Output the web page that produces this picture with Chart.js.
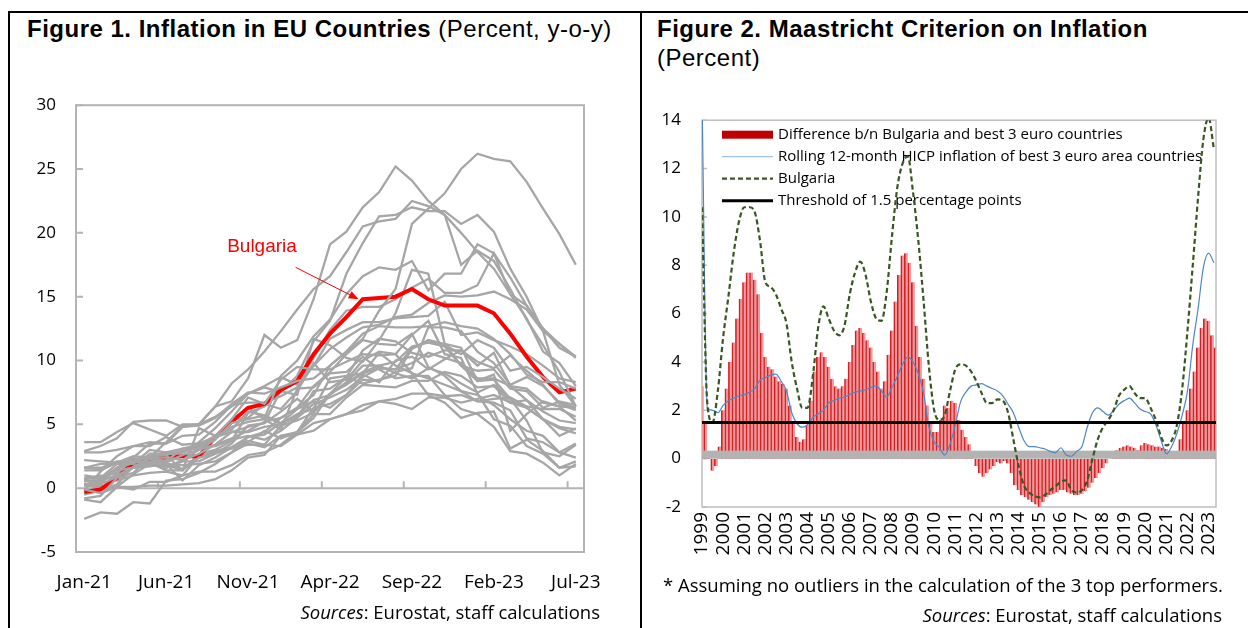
<!DOCTYPE html>
<html>
<head>
<meta charset="utf-8">
<script src="https://cdn.jsdelivr.net/npm/chart.js@4.4.0/dist/chart.umd.min.js"></script>
<style>
body{margin:0;width:1248px;height:628px;overflow:hidden;background:#fff;position:relative;font-family:"Open Sans",sans-serif;}
.rule{position:absolute;background:#000;}
.title{position:absolute;font-family:"Liberation Sans",Arial,sans-serif;font-size:24px;letter-spacing:0.5px;line-height:28px;white-space:nowrap;color:#000;}
.note{position:absolute;font-size:18.5px;line-height:22px;white-space:nowrap;color:#000;}
canvas{position:absolute;}
</style>
</head>
<body>
<div class="rule" style="left:8px;top:11px;width:1240px;height:2px"></div>
<div class="rule" style="left:8px;top:11px;width:2px;height:617px"></div>
<div class="rule" style="left:640px;top:11px;width:2px;height:617px"></div>

<div class="title" style="left:27px;top:15px"><b>Figure 1. Inflation in EU Countries</b> (Percent, y-o-y)</div>
<div class="title" style="left:657px;top:15px"><b>Figure 2. Maastricht Criterion on Inflation</b></div>
<div class="title" style="left:657px;top:44px">(Percent)</div>

<canvas id="fig1" width="630" height="530" style="left:10px;top:75px"></canvas>
<canvas id="fig2" width="603" height="511" style="left:645px;top:89px"></canvas>

<div class="note" style="right:648px;top:601px"><i>Sources</i>: Eurostat, staff calculations</div>
<div class="note" style="left:663px;top:574px">* Assuming no outliers in the calculation of the 3 top performers.</div>
<div class="note" style="right:26px;top:604px"><i>Sources</i>: Eurostat, staff calculations</div>

<script>
// ---------- Figure 1 data: HICP y-o-y, Jan-21 .. Jul-23 ----------
const months = ['Jan-21','Feb-21','Mar-21','Apr-21','May-21','Jun-21','Jul-21','Aug-21','Sep-21','Oct-21','Nov-21','Dec-21',
  'Jan-22','Feb-22','Mar-22','Apr-22','May-22','Jun-22','Jul-22','Aug-22','Sep-22','Oct-22','Nov-22','Dec-22',
  'Jan-23','Feb-23','Mar-23','Apr-23','May-23','Jun-23','Jul-23'];
const yTicks1 = [-5, 0, 5, 10, 15, 20, 25, 30];

const austria    = [1.4,1.4,2.0,1.9,3.0,2.8,2.8,3.2,3.3,3.8,4.1,3.8, 4.5,5.5,6.6,7.1,7.7,8.7,9.4,9.3,11.0,11.5,11.2,10.5, 11.6,11.0,9.2,9.5,8.7,7.8,7.0];
const belgium    = [0.6,0.3,1.6,2.0,2.5,2.6,1.4,4.7,4.1,5.4,7.1,6.6, 8.5,9.5,9.3,9.3,9.9,10.5,10.4,10.5,12.0,13.1,10.5,10.2, 7.4,5.4,4.9,3.3,2.7,1.6,1.7];
const croatia    = [0.2,0.5,1.5,2.0,2.1,2.0,2.6,3.0,3.4,3.9,4.5,5.2, 5.5,6.3,7.3,9.6,10.7,12.1,12.7,12.6,12.6,12.7,13.0,12.7, 12.5,11.7,10.5,8.9,8.3,8.3,7.8];
const cyprus     = [-0.8,-0.6,0.8,1.2,2.4,2.4,2.2,2.7,3.4,4.4,4.4,4.8, 5.0,5.8,6.2,8.6,8.8,9.0,10.6,9.6,9.0,8.6,8.1,7.6, 6.8,6.7,6.1,3.9,3.6,2.8,2.4];
const czechia    = [2.2,2.1,2.0,2.5,2.4,2.8,3.1,3.1,4.0,4.8,5.2,5.4, 8.8,10.0,11.9,13.2,15.2,16.6,17.3,17.1,17.8,15.5,16.8,16.8, 19.1,18.4,16.5,14.3,12.5,11.3,10.2];
const denmark    = [0.6,0.6,1.0,1.6,1.7,1.9,0.6,1.8,2.4,3.2,3.7,3.4, 4.9,5.3,5.9,7.4,8.2,9.1,9.6,9.9,11.1,11.4,11.1,9.6, 8.4,8.5,7.0,5.3,2.8,2.5,3.4];
const estonia    = [0.3,0.3,0.9,1.6,2.4,3.6,4.9,5.0,6.4,6.8,8.6,12.0, 11.0,11.6,14.8,19.1,20.1,22.0,23.2,25.2,24.1,22.5,21.4,17.5, 18.6,17.8,15.6,13.2,11.2,9.1,6.4];
const finland    = [1.0,0.8,1.9,2.3,2.3,1.9,1.8,1.9,2.1,2.8,3.5,3.2, 4.1,4.4,5.8,5.8,7.1,8.1,8.0,7.9,8.4,8.4,9.1,8.8, 7.9,8.0,6.7,6.3,5.4,4.1,4.7];
const france     = [0.8,0.8,1.4,1.6,1.8,1.9,1.5,2.4,2.7,3.2,3.4,3.4, 3.3,4.2,5.1,5.4,5.8,6.5,6.8,6.6,6.2,7.1,7.1,6.7, 7.0,7.3,6.7,6.9,6.0,5.3,5.1];
const germany    = [1.6,1.6,2.0,2.1,2.4,2.1,3.1,3.4,4.1,4.6,6.0,5.7, 5.1,5.5,7.6,7.8,8.7,8.2,8.5,8.8,10.9,11.6,11.3,9.6, 9.2,9.3,7.8,7.6,6.3,6.8,6.5];
const greece     = [-2.4,-1.9,-2.0,-1.1,-1.2,0.6,0.7,1.2,1.9,2.8,4.0,4.4, 5.5,6.3,8.0,9.1,10.5,11.6,11.3,11.2,12.1,9.5,8.8,7.6, 7.3,6.5,5.4,4.5,4.1,2.8,3.5];
const hungary    = [2.9,3.3,3.9,5.2,5.3,5.3,4.8,4.9,5.5,6.6,7.5,7.4, 7.9,8.4,8.6,9.6,10.7,11.7,13.9,15.6,20.7,21.9,23.1,25.0, 26.2,25.8,25.6,24.0,21.9,19.9,17.5];
const ireland    = [-0.1,-0.4,0.1,1.1,1.9,1.6,2.2,3.0,3.8,5.1,5.4,5.7, 5.0,5.7,6.9,7.3,8.3,9.6,9.6,9.0,8.6,9.4,9.0,8.2, 7.5,8.1,7.0,6.3,5.4,4.8,4.6];
const italy      = [0.7,1.0,0.6,1.0,1.2,1.3,1.0,2.5,2.9,3.2,4.0,4.2, 5.1,6.2,6.8,6.3,7.3,8.5,8.4,9.1,9.4,12.6,12.6,12.3, 10.7,9.8,8.1,8.7,8.0,6.7,6.3];
const latvia     = [-0.5,-0.2,0.3,1.7,2.7,2.7,2.8,3.6,4.7,6.0,7.4,7.9, 7.5,8.8,11.5,13.1,16.8,19.2,21.3,21.4,22.0,21.7,21.7,20.7, 21.4,20.1,17.2,15.0,12.3,8.1,6.4];
const lithuania  = [0.2,0.7,1.6,2.4,3.5,3.5,4.8,5.0,6.4,8.2,9.3,10.7, 12.3,14.0,15.6,16.6,18.5,20.5,20.9,21.1,22.5,22.1,21.4,20.0, 18.5,17.2,15.2,13.3,10.7,9.8,8.0];
const luxembourg = [-0.2,1.3,2.5,3.3,3.3,4.0,3.4,3.5,4.0,5.3,6.3,5.4, 4.6,7.8,7.9,9.0,9.1,10.3,9.3,8.6,8.8,8.8,7.3,6.2, 5.8,4.8,2.9,2.7,2.0,1.0,1.9];
const malta      = [0.2,0.1,0.1,0.1,0.2,0.2,0.3,0.4,0.7,1.4,2.4,2.6, 4.1,4.2,4.5,5.4,5.8,6.1,6.8,7.0,7.4,7.4,7.2,7.3, 6.8,7.0,7.1,6.4,6.2,6.2,5.6];
const netherlands= [1.6,1.9,1.9,1.7,2.0,1.4,1.4,2.7,3.0,3.7,5.9,6.4, 7.6,7.3,11.7,11.2,10.2,9.9,11.6,13.7,17.1,16.8,11.3,11.0, 8.4,8.9,4.5,5.8,6.8,6.4,5.3];
const poland     = [3.6,3.6,4.4,5.1,4.6,4.1,5.0,5.0,5.6,6.4,7.4,8.0, 8.7,8.1,10.2,12.4,13.9,14.2,14.2,14.8,15.7,16.4,15.3,15.3, 15.9,18.4,15.2,14.3,12.5,11.0,10.3];
const portugal   = [0.3,0.2,0.1,-0.1,0.5,0.5,1.0,1.3,1.3,1.8,2.6,2.8, 3.4,4.4,5.5,7.4,8.1,9.0,9.4,9.3,9.8,10.6,10.2,9.8, 8.6,8.6,8.0,6.9,5.4,4.7,4.3];
const romania    = [2.8,2.8,3.0,3.3,3.6,3.5,4.1,4.2,5.2,6.5,6.7,6.7, 7.2,7.9,9.6,11.7,12.4,13.0,13.0,13.3,13.4,13.5,14.6,12.0, 12.2,11.6,11.1,10.5,9.6,8.6,8.3];
const slovakia   = [0.7,0.9,1.2,1.7,2.0,2.5,2.8,3.3,4.0,4.4,4.8,5.1, 7.7,8.3,9.6,10.9,11.8,12.6,12.8,13.4,13.6,14.5,15.1,15.0, 15.1,15.4,14.8,14.0,12.3,11.3,10.3];
const slovenia   = [-0.9,-1.1,0.1,2.2,2.2,1.6,2.1,2.1,2.7,3.5,4.9,5.1, 6.0,7.0,6.0,7.4,8.7,10.8,11.7,11.5,10.6,10.3,10.8,10.8, 9.9,9.4,10.4,9.2,8.1,6.6,6.1];
const spain      = [0.4,-0.1,1.2,2.0,2.4,2.5,2.9,3.3,4.0,5.4,5.5,6.6, 6.2,7.6,9.8,8.3,8.5,10.0,10.7,10.5,9.0,7.3,6.7,5.5, 5.9,6.0,3.1,3.8,2.9,1.6,2.1];
const sweden     = [1.6,1.5,2.1,2.0,1.8,1.8,1.4,2.4,2.8,3.1,3.6,4.5, 3.9,4.4,6.3,6.6,7.3,8.9,8.3,10.0,10.3,9.3,10.1,10.8, 9.6,10.6,8.0,7.8,6.7,6.4,6.3];
const bulgaria1  = [-0.3,-0.1,0.8,2.0,2.3,2.4,2.5,2.5,4.0,5.2,6.3,6.6, 7.7,8.4,10.5,12.1,13.4,14.8,14.9,15.0,15.6,14.8,14.3,14.3, 14.3,13.7,12.1,10.3,8.7,7.5,7.8];

const othersFirst = [austria, belgium, croatia, cyprus, czechia, denmark, estonia, finland, france, germany, greece, hungary, ireland];
const othersLast  = [italy, latvia, lithuania, luxembourg, malta, netherlands, poland, portugal, romania, slovakia, slovenia, spain, sweden];

// label placement for the Bulgaria call-out (category index, value)
const calloutText = {index: 10.85, value: 18.9};
const calloutFrom = {index: 12.9, value: 17.3};
const calloutTo   = {index: 16.75, value: 14.8};

// ---------- Figure 2 data ----------
// quarterly: rolling 12-month HICP, Q1-1999 .. Q2-2023
const bulgaria2 = [10.4, 2.3, 1.5, 2.8, 5.0, 6.7, 8.5, 9.8, 10.4, 10.4,
  10.2, 9.0, 7.3, 7.1, 6.8, 6.2, 5.6, 4.0, 2.9, 2.1,
  2.1, 3.4, 5.4, 6.3, 5.8, 5.3, 5.1, 5.5, 6.8, 7.7,
  8.15, 7.6, 6.5, 5.8, 5.7, 6.9, 9.2, 11.2, 12.2, 12.5,
  11.0, 9.0, 6.5, 3.8, 2.0, 1.6, 1.8, 2.8, 3.7, 3.9,
  3.85, 3.6, 3.2, 2.7, 2.3, 2.3, 2.45, 2.4, 1.9, 0.8,
  -0.3, -1.1, -1.4, -1.55, -1.6, -1.5, -1.3, -1.15, -0.95, -0.9,
  -1.3, -1.4, -1.3, -0.9, 0.0, 0.8, 1.3, 1.6, 2.0, 2.6,
  2.85, 3.0, 2.7, 2.5, 2.5, 2.1, 1.6, 0.9, 0.55, 0.75,
  1.4, 2.9, 5.3, 8.0, 10.8, 13.2, 14.1, 12.8];
const best3 = [15, 2.1, 2.0, 1.9, 2.2, 2.4, 2.5, 2.6, 2.65, 2.75,
  2.9, 3.25, 3.35, 3.45, 3.5, 3.2, 2.8, 1.9, 1.45, 1.3,
  1.4, 1.7, 1.85, 2.0, 2.3, 2.4, 2.5, 2.55, 2.65, 2.75,
  2.8, 2.85, 2.95, 3.0, 2.8, 2.55, 2.95, 3.4, 3.9, 4.2,
  4.0, 3.5, 2.7, 1.3, 0.7, 0.45, 0.15, 0.6, 1.4, 2.35,
  2.75, 3.0, 3.05, 3.1, 3.0, 2.9, 2.8, 2.6, 2.25, 1.9,
  1.3, 0.75, 0.5, 0.5, 0.45, 0.4, 0.3, 0.25, 0.45, 0.15,
  0.1, 0.3, 0.5, 1.3, 1.9, 2.1, 1.95, 1.8, 2.0, 2.25,
  2.4, 2.5, 2.3, 2.05, 1.95, 1.85, 1.4, 0.75, 0.2, 0.5,
  1.05, 1.8, 2.8, 4.7, 6.2, 7.9, 8.5, 8.1];
// every second month: difference Bulgaria minus best 3
const difference = [3.0, 1.5, 0.2, -0.5, -0.3, 0.5, 2.0, 2.9, 4.0, 4.8,
  5.8, 6.6, 7.3, 7.7, 7.7, 7.4, 6.8, 5.2, 4.2, 3.8,
  3.7, 3.4, 3.2, 3.1, 2.9, 2.2, 1.5, 0.9, 0.7, 0.8,
  1.4, 2.4, 3.6, 4.2, 4.4, 4.2, 3.8, 3.3, 3.0, 2.9,
  3.0, 3.3, 4.0, 4.7, 5.3, 5.4, 5.2, 4.9, 4.6, 4.0,
  3.6, 2.9, 3.2, 4.3, 5.3, 6.5, 7.6, 8.4, 8.5, 8.1,
  7.3, 5.5, 4.2, 3.3, 2.2, 1.5, 1.1, 1.1, 1.6, 2.2,
  2.1, 2.4, 2.3, 1.6, 1.2, 0.9, 0.6, 0.3, -0.3, -0.6,
  -0.75, -0.6, -0.45, -0.3, -0.15, -0.2, -0.1, -0.2, -0.6, -1.1,
  -1.3, -1.5, -1.6, -1.7, -1.8, -1.9, -2.0, -1.8, -1.6, -1.5,
  -1.45, -1.4, -1.3, -1.3, -1.4, -1.45, -1.5, -1.5, -1.45, -1.35,
  -1.2, -1.0, -0.8, -0.6, -0.4, -0.2, 0.0, 0.2, 0.35, 0.45,
  0.5, 0.55, 0.5, 0.45, 0.35, 0.55, 0.65, 0.6, 0.55, 0.5,
  0.5, 0.45, 0.4, 0.3, 0.05, 0.3, 0.8, 1.5, 2.0, 2.9,
  3.6, 4.6, 5.4, 5.8, 5.7, 5.1, 4.6];
const threshold = 1.5;
const years = [1999,2000,2001,2002,2003,2004,2005,2006,2007,2008,2009,2010,2011,2012,
  2013,2014,2015,2016,2017,2018,2019,2020,2021,2022,2023];
const yTicks2 = [-2, 0, 2, 4, 6, 8, 10, 12, 14];
const xStart = 1999, xEnd = 2023.35;

const quarterDates = bulgaria2.map((v, i) => xStart + i / 4);
const barDates = difference.map((v, j) => xStart + j / 6);

Chart.defaults.font.family = '"Open Sans", sans-serif';
Chart.defaults.color = '#000';

// ---------- Figure 1 ----------
const grey = '#a6a6a6';
const greyLine = d => ({data: d, borderColor: grey, borderWidth: 2.3, pointRadius: 0, tension: 0});

const frameOne = {
  id: 'frameOne',
  beforeDatasetsDraw(chart) {
    const {ctx, chartArea: a, scales: {x, y}} = chart;
    ctx.save();
    ctx.strokeStyle = '#b4b4b4';
    ctx.lineWidth = 2;
    ctx.strokeRect(a.left, a.top, a.right - a.left, a.bottom - a.top);
    const y0 = y.getPixelForValue(0);
    ctx.beginPath();
    ctx.moveTo(a.left, y0);
    ctx.lineTo(a.right, y0);
    yTicks1.forEach(v => {
      const py = y.getPixelForValue(v);
      ctx.moveTo(a.left, py);
      ctx.lineTo(a.left + 7, py);
    });
    for (let i = 5; i < months.length; i += 5) {
      const px = (x.getPixelForValue(i - 1) + x.getPixelForValue(i)) / 2;
      ctx.moveTo(px, y0);
      ctx.lineTo(px, y0 - 7);
    }
    ctx.stroke();
    ctx.restore();
  },
  afterDatasetsDraw(chart) {
    const {ctx, scales: {x, y}} = chart;
    const tx = x.getPixelForValue(calloutText.index), ty = y.getPixelForValue(calloutText.value);
    const fx = x.getPixelForValue(calloutFrom.index), fy = y.getPixelForValue(calloutFrom.value);
    const ex = x.getPixelForValue(calloutTo.index), ey = y.getPixelForValue(calloutTo.value);
    ctx.save();
    ctx.fillStyle = '#ff0000';
    ctx.strokeStyle = '#ff0000';
    ctx.font = '19px "Liberation Sans", Arial, sans-serif';
    ctx.textAlign = 'center';
    ctx.textBaseline = 'middle';
    ctx.fillText('Bulgaria', tx, ty);
    const ang = Math.atan2(ey - fy, ex - fx);
    ctx.lineWidth = 1;
    ctx.beginPath();
    ctx.moveTo(fx, fy);
    ctx.lineTo(ex - 8 * Math.cos(ang), ey - 8 * Math.sin(ang));
    ctx.stroke();
    ctx.beginPath();
    ctx.moveTo(ex, ey);
    ctx.lineTo(ex - 10 * Math.cos(ang) + 4 * Math.sin(ang), ey - 10 * Math.sin(ang) - 4 * Math.cos(ang));
    ctx.lineTo(ex - 10 * Math.cos(ang) - 4 * Math.sin(ang), ey - 10 * Math.sin(ang) + 4 * Math.cos(ang));
    ctx.closePath();
    ctx.fill();
    ctx.restore();
  }
};

new Chart(document.getElementById('fig1'), {
  type: 'line',
  data: {
    labels: months,
    datasets: [
      ...othersFirst.map(greyLine),
      {data: bulgaria1, borderColor: '#ff0000', borderWidth: 4, pointRadius: 0, tension: 0},
      ...othersLast.map(greyLine)
    ]
  },
  options: {
    responsive: false,
    animation: false,
    devicePixelRatio: 1,
    layout: {padding: {left: 6, top: 0, right: 56, bottom: 8}},
    plugins: {legend: {display: false}, tooltip: {enabled: false}},
    scales: {
      x: {
        offset: true,
        grid: {display: false, drawTicks: false},
        border: {display: false},
        ticks: {
          autoSkip: false, maxRotation: 0, minRotation: 0, padding: 19,
          font: {size: 19},
          callback: (v, i) => (i % 5 === 0 ? months[i] : '')
        },
        afterFit: s => { s.height = 45; }
      },
      y: {
        min: -5, max: 30,
        grid: {display: false, drawTicks: false},
        border: {display: false},
        ticks: {stepSize: 5, padding: 20, font: {size: 17}},
        afterFit: s => { s.width = 60; }
      }
    }
  },
  plugins: [frameOne]
});

// ---------- Figure 2 ----------
const frameTwo = {
  id: 'frameTwo',
  beforeDatasetsDraw(chart) {
    const {ctx, chartArea: a, scales: {y}} = chart;
    ctx.save();
    ctx.strokeStyle = '#bfbfbf';
    ctx.lineWidth = 1.5;
    ctx.strokeRect(a.left, a.top, a.right - a.left, a.bottom - a.top);
    ctx.beginPath();
    yTicks2.forEach(v => {
      const py = y.getPixelForValue(v);
      ctx.moveTo(a.left, py);
      ctx.lineTo(a.left + 5, py);
    });
    ctx.stroke();
    // legend, drawn under the lines as in the original
    ctx.font = '15px "Open Sans", sans-serif';
    ctx.textBaseline = 'middle';
    chart.data.datasets.forEach((ds, k) => {
      const yy = a.top + 14.5 + k * 22;
      const x0 = a.left + 20, x1 = a.left + 71;
      if (ds.type === 'bar') {
        ctx.fillStyle = ds.legendColor;
        ctx.fillRect(x0, yy - 4, x1 - x0, 8);
      } else {
        ctx.strokeStyle = ds.legendColor || ds.borderColor;
        ctx.lineWidth = ds.borderWidth;
        ctx.setLineDash(ds.borderDash || []);
        ctx.beginPath();
        ctx.moveTo(x0, yy);
        ctx.lineTo(x1, yy);
        ctx.stroke();
        ctx.setLineDash([]);
      }
      ctx.fillStyle = '#000';
      ctx.fillText(ds.label, a.left + 76, yy);
    });
    ctx.restore();
  },
  afterDatasetDraw(chart, args) {
    if (args.index !== 0) return;
    const {ctx, chartArea: a, scales: {y}} = chart;
    const y0 = y.getPixelForValue(0);
    ctx.save();
    ctx.fillStyle = '#b3b3b3';
    ctx.fillRect(a.left, y0 - 8, a.right - a.left, 8);
    ctx.restore();
  }
};

new Chart(document.getElementById('fig2'), {
  type: 'bar',
  data: {
    datasets: [
      {
        type: 'bar',
        label: 'Difference b/n Bulgaria and best 3 euro countries',
        data: difference.map((v, j) => ({x: barDates[j], y: v})),
        backgroundColor: '#f0999b',
        borderColor: '#d41f24',
        borderWidth: {left: 1.6, right: 0, top: 0, bottom: 0},
        borderSkipped: false,
        barPercentage: 1,
        categoryPercentage: 1,
        legendColor: '#c00000',
        order: 4
      },
      {
        type: 'line',
        label: 'Rolling 12-month HICP inflation of best 3 euro area countries',
        data: best3.map((v, i) => ({x: quarterDates[i], y: v})),
        borderColor: '#4f86c6',
        legendColor: '#9dc3e6',
        borderWidth: 1.2,
        pointRadius: 0,
        cubicInterpolationMode: 'monotone',
        order: 3
      },
      {
        type: 'line',
        label: 'Bulgaria',
        data: bulgaria2.map((v, i) => ({x: quarterDates[i], y: v})),
        borderColor: '#385723',
        borderWidth: 2.2,
        borderDash: [5, 3],
        pointRadius: 0,
        cubicInterpolationMode: 'monotone',
        order: 2
      },
      {
        type: 'line',
        label: 'Threshold of 1.5 percentage points',
        data: [{x: xStart, y: threshold}, {x: xEnd, y: threshold}],
        borderColor: '#000',
        borderWidth: 3,
        pointRadius: 0,
        order: 1
      }
    ]
  },
  options: {
    responsive: false,
    animation: false,
    devicePixelRatio: 1,
    layout: {padding: {left: 2, top: 0, right: 32, bottom: 8}},
    plugins: {legend: {display: false}, tooltip: {enabled: false}},
    scales: {
      x: {
        type: 'linear',
        min: xStart, max: xEnd,
        offset: false,
        grid: {display: false, drawTicks: false},
        border: {display: false},
        afterBuildTicks: s => { s.ticks = years.map(v => ({value: v})); },
        ticks: {
          autoSkip: false, minRotation: 90, maxRotation: 90, padding: 5,
          font: {size: 19},
          callback: v => String(v)
        },
        afterFit: s => { s.height = 85; }
      },
      y: {
        min: -2, max: 14,
        grid: {display: false, drawTicks: false},
        border: {display: false},
        ticks: {stepSize: 2, padding: 21, font: {size: 17}},
        afterFit: s => { s.width = 55; }
      }
    }
  },
  plugins: [frameTwo]
});
</script>
</body>
</html>
